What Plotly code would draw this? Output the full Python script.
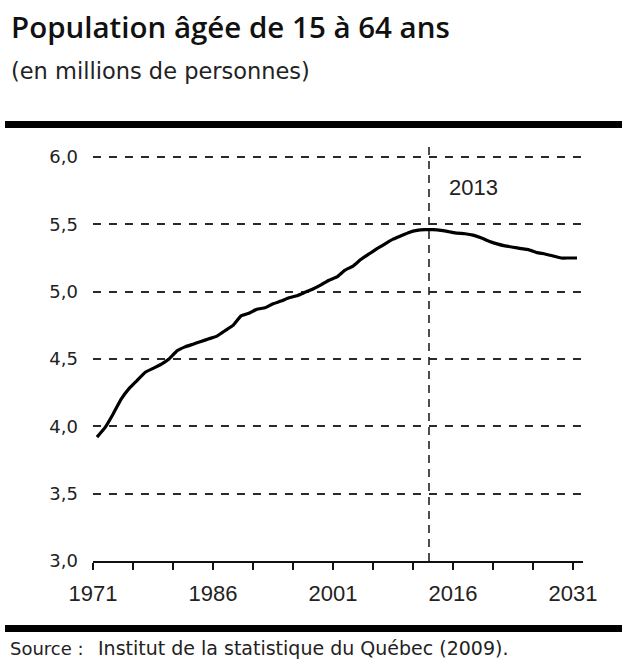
import plotly.graph_objects as go

# ---- data -------------------------------------------------------------
years = list(range(1971, 2032))
population = [
    3.92, 3.99, 4.09, 4.20, 4.28, 4.34, 4.40, 4.43, 4.46, 4.50,
    4.56, 4.59, 4.61, 4.63, 4.65, 4.67, 4.71, 4.75, 4.82, 4.84,
    4.87, 4.88, 4.91, 4.93, 4.955, 4.97, 4.995, 5.02, 5.05, 5.085,
    5.11, 5.16, 5.19, 5.24, 5.28, 5.32, 5.355, 5.39, 5.415, 5.44,
    5.455, 5.46, 5.46, 5.455, 5.445, 5.435, 5.43, 5.42, 5.40, 5.375,
    5.355, 5.34, 5.33, 5.32, 5.31, 5.29, 5.28, 5.265, 5.25, 5.25,
    5.25,
]
x_tick_years = list(range(1971, 2032, 5))
x_label_years = [1971, 1986, 2001, 2016, 2031]
y_tick_values = [3.0, 3.5, 4.0, 4.5, 5.0, 5.5, 6.0]
y_tick_labels = ["3,0", "3,5", "4,0", "4,5", "5,0", "5,5", "6,0"]
marker_year = 2013

title_text = "Population âgée de 15 à 64 ans"
subtitle_text = "(en millions de personnes)"
source_label = "Source :"
source_text = "Institut de la statistique du Québec (2009)."

# ---- figure -----------------------------------------------------------
W, H = 622, 661
ML, MR, MT, MB = 93, 39, 147, 100
PW, PH = W - ML - MR, H - MT - MB

def px(xp):
    return (xp - ML) / PW

def py(yp):
    return (H - MB - yp) / PH

# each annual value is drawn at the centre of its year interval
x_pos = [y + 0.5 for y in years]

fig = go.Figure()
fig.add_trace(go.Scatter(
    x=x_pos, y=population, mode="lines",
    line=dict(color="black", width=3.2, shape="spline", smoothing=0.3),
    hoverinfo="skip", showlegend=False,
))

fig.add_shape(type="line", xref="x", yref="y",
              x0=marker_year, x1=marker_year, y0=6.074, y1=3.0,
              line=dict(color="#222", width=1.6, dash="8px,6px"), layer="above")

fig.add_annotation(x=marker_year, y=5.77, xref="x", yref="y", text="2013",
                   showarrow=False, xanchor="left", yanchor="middle", xshift=18,
                   font=dict(family="Liberation Sans, Arial, sans-serif", size=22, color="#222"))

tick_text = [str(y) if y in x_label_years else "" for y in x_tick_years]

fig.update_layout(
    width=W, height=H,
    margin=dict(l=ML, r=MR, t=MT, b=MB, pad=0),
    paper_bgcolor="white", plot_bgcolor="white",
    showlegend=False,
    xaxis=dict(
        range=[1971, 1971 + PW / 8.0],
        tickmode="array", tickvals=x_tick_years, ticktext=tick_text,
        ticks="outside", ticklen=7, tickwidth=1.6, tickcolor="#111",
        showline=True, linecolor="#111", linewidth=1.6,
        showgrid=False, zeroline=False,
        tickfont=dict(family="Liberation Sans, Arial, sans-serif", size=22, color="#222"),
        ticklabelstandoff=5,
    ),
    yaxis=dict(
        range=[3.0, 3.0 + PH / 134.67],
        tickmode="array", tickvals=y_tick_values, ticktext=y_tick_labels,
        ticks="", showline=False, zeroline=False,
        showgrid=True, gridcolor="#2a2a2a", gridwidth=1.7, griddash="8px,8px",
        tickfont=dict(family="DejaVu Sans, sans-serif", size=18, color="#222"),
        ticklabelstandoff=14,
    ),
)

# title / subtitle
fig.add_annotation(x=px(9), y=py(26), xref="paper", yref="paper", text=title_text,
                   showarrow=False, xanchor="left", yanchor="middle",
                   font=dict(family="Open Sans, sans-serif", size=29.5, color="#111", weight=600))
fig.add_annotation(x=px(9), y=py(71), xref="paper", yref="paper", text=subtitle_text,
                   showarrow=False, xanchor="left", yanchor="middle",
                   font=dict(family="DejaVu Sans, sans-serif", size=22.5, color="#222"))

# thick rules
for yline in (124.5, 628.5):
    fig.add_shape(type="line", xref="paper", yref="paper",
                  x0=px(5), x1=px(622), y0=py(yline), y1=py(yline),
                  line=dict(color="black", width=7))

# source
fig.add_annotation(x=px(8), y=py(648), xref="paper", yref="paper", text=source_label,
                   showarrow=False, xanchor="left", yanchor="middle",
                   font=dict(family="DejaVu Sans, sans-serif", size=18, color="#222"))
fig.add_annotation(x=px(96), y=py(648), xref="paper", yref="paper", text=source_text,
                   showarrow=False, xanchor="left", yanchor="middle",
                   font=dict(family="DejaVu Sans, sans-serif", size=19, color="#222"))

fig.write_html("out.html")
